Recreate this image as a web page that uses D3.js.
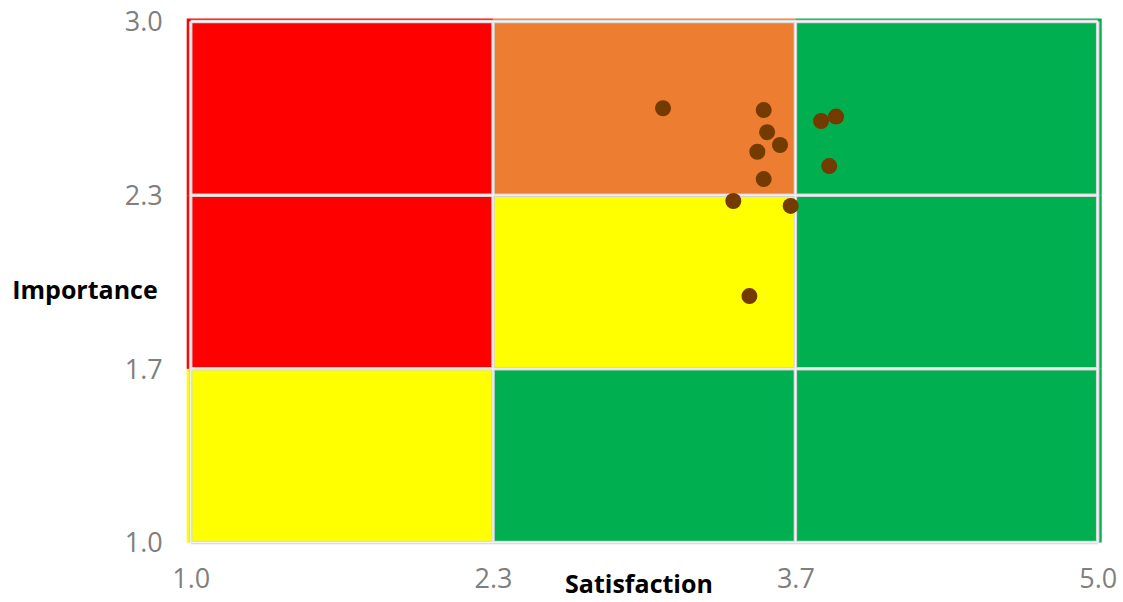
<!DOCTYPE html>
<html>
<head>
<meta charset="utf-8">
<script src="https://cdn.jsdelivr.net/npm/d3@7"></script>
<style>
  html, body { margin: 0; padding: 0; background: #fff; }
  svg { display: block; }
</style>
</head>
<body>
<svg id="chart" width="1123" height="602"></svg>
<script>
// Survey items plotted by satisfaction (x) and importance (y)
const satisfaction = [3.083, 3.527, 3.542, 3.599, 3.499, 3.527, 3.393, 3.646, 3.780, 3.846, 3.816, 3.464];
const importance   = [2.667, 2.660, 2.575, 2.526, 2.500, 2.395, 2.311, 2.292, 2.618, 2.635, 2.445, 1.946];

// Zone boundaries and axis ticks
const xBreaks = [1, 7 / 3, 11 / 3, 5];
const yBreaks = [1, 5 / 3, 7 / 3, 3];
const xTickValues = xBreaks;
const yTickValues = yBreaks;

// Zone colours, bottom row first, left to right
const zoneRows = [
  ["#FFFF00", "#00B050", "#00B050"],
  ["#FF0000", "#FFFF00", "#00B050"],
  ["#FF0000", "#ED7D31", "#00B050"]
];

const svg = d3.select("#chart");
const x = d3.scaleLinear().domain([1, 5]).range([190.7, 1097.7]);
const y = d3.scaleLinear().domain([1, 3]).range([542.5, 21.5]);
const pad = 4;
const fmt = d3.format(".1f");

// Coloured zones
const zones = [];
zoneRows.forEach((row, r) => row.forEach((color, c) => zones.push({ r, c, color })));
svg.append("g").selectAll("rect").data(zones).join("rect")
  .attr("x", d => x(xBreaks[d.c]) - (d.c === 0 ? pad : 0))
  .attr("width", d => x(xBreaks[d.c + 1]) - x(xBreaks[d.c]) + (d.c === 0 ? pad : 0) + (d.c === 2 ? pad : 0))
  .attr("y", d => y(yBreaks[d.r + 1]) - (d.r === 2 ? pad - 1 : 0))
  .attr("height", d => y(yBreaks[d.r]) - y(yBreaks[d.r + 1]) + (d.r === 2 ? pad - 1 : 0))
  .attr("fill", d => d.color);

// Gridlines: light grey band with a paler centre
function drawGrid(stroke, width) {
  const g = svg.append("g").attr("stroke", stroke).attr("stroke-width", width);
  g.selectAll("line.v").data(xBreaks).join("line").attr("class", "v")
    .attr("x1", d => x(d)).attr("x2", d => x(d))
    .attr("y1", y(3)).attr("y2", y(1));
  g.selectAll("line.h").data(yBreaks).join("line").attr("class", "h")
    .attr("x1", x(1)).attr("x2", x(5))
    .attr("y1", d => y(d)).attr("y2", d => y(d));
}
drawGrid("#d4d4d4", 3.5);
drawGrid("#f4f4f4", 1.3);

// Axes (labels only; lines come from the grid)
const xAxis = d3.axisBottom(x).tickValues(xTickValues).tickFormat(fmt).tickSize(0).tickPadding(0);
const yAxis = d3.axisLeft(y).tickValues(yTickValues).tickFormat(fmt).tickSize(0).tickPadding(0);

const gx = svg.append("g").attr("transform", `translate(0,${y(1) + 26})`).call(xAxis);
const gy = svg.append("g").attr("transform", `translate(${x(1) - 28},0)`).call(yAxis);
[gx, gy].forEach(g => {
  g.select(".domain").remove();
  g.selectAll("text")
    .attr("fill", "#7f7f7f")
    .style("font-family", "'Open Sans', sans-serif")
    .style("font-size", "27px");
});
gx.selectAll("text").attr("dy", "0.71em");
gy.selectAll("text").attr("dy", "0.35em");

// Data points
svg.append("g").selectAll("circle").data(satisfaction).join("circle")
  .attr("cx", d => x(d))
  .attr("cy", (d, i) => y(importance[i]))
  .attr("r", 8)
  .attr("fill", "#733b00");

// Axis titles
svg.append("text")
  .attr("x", 639).attr("y", 583)
  .attr("text-anchor", "middle").attr("dominant-baseline", "central")
  .style("font-family", "'Open Sans', sans-serif").style("font-weight", "bold").style("font-size", "25px")
  .attr("fill", "#000")
  .text("Satisfaction");
svg.append("text")
  .attr("x", 85).attr("y", 289)
  .attr("text-anchor", "middle").attr("dominant-baseline", "central")
  .style("font-family", "'Open Sans', sans-serif").style("font-weight", "bold").style("font-size", "25px")
  .attr("fill", "#000")
  .text("Importance");
</script>
</body>
</html>
